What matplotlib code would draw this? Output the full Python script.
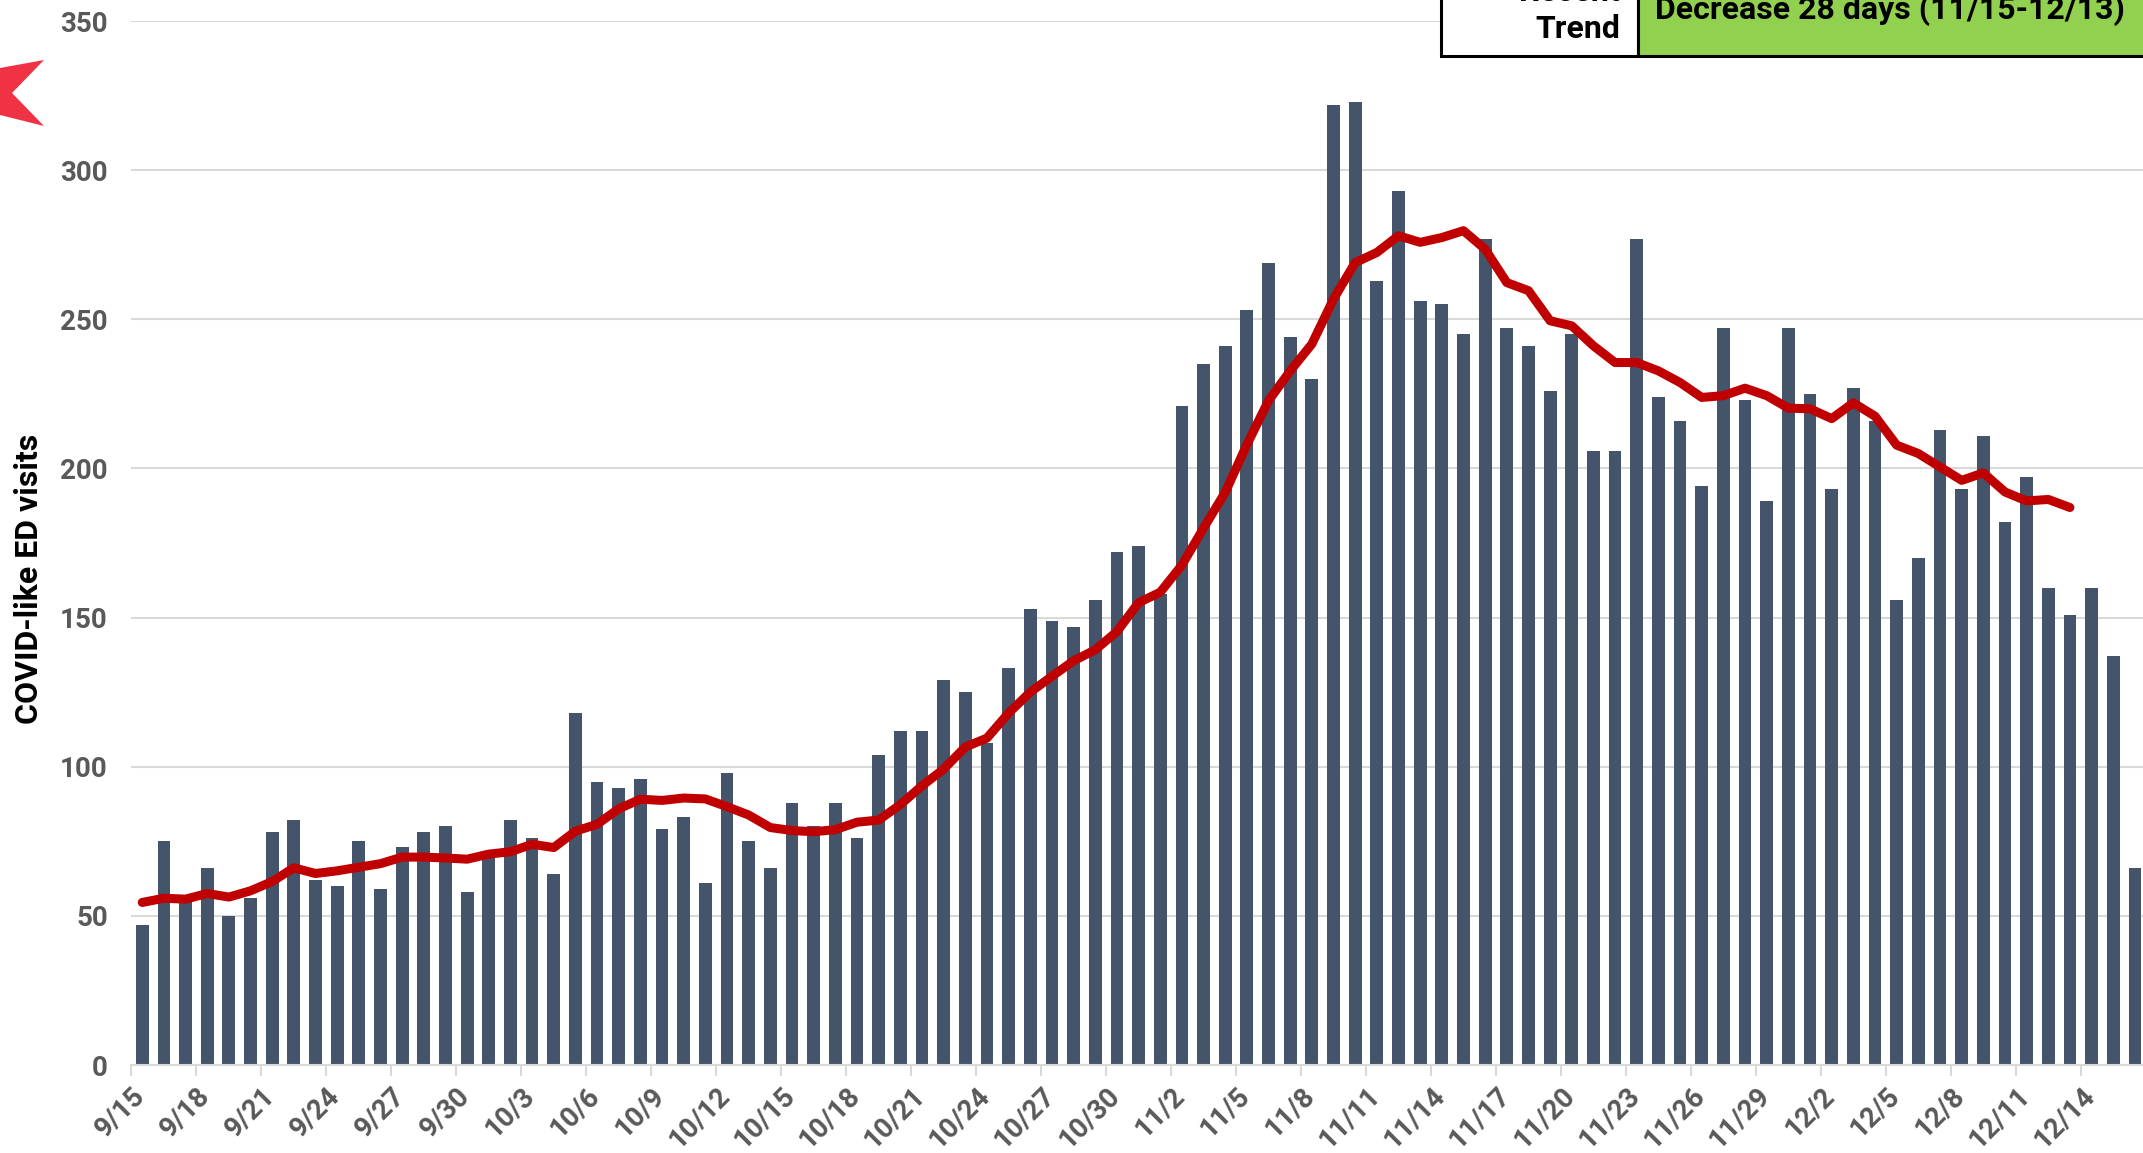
import numpy as np
import pandas as pd
import matplotlib
matplotlib.use("Agg")
import matplotlib.pyplot as plt
from matplotlib.patches import Polygon, Rectangle

plt.rcParams['font.family'] = ['Roboto', 'DejaVu Sans']

## daily COVID-like ED visits, 9/15 - 12/16
visits = [47, 75, 56, 66, 50, 56, 78, 82, 62, 60, 75, 59, 73, 78, 80, 58,
          70, 82, 76, 64, 118, 95, 93, 96, 79, 83, 61, 98, 75, 66, 88, 80,
          88, 76, 104, 112, 112, 129, 125, 108, 133, 153, 149, 147, 156, 172, 174,
          158, 221, 235, 241, 253, 269, 244, 230, 322, 323, 263, 293, 256, 255,
          245, 277, 247, 241, 226, 245, 206, 206, 277, 224, 216, 194, 247, 223, 189, 247,
          225, 193, 227, 216, 156, 170, 213, 193, 211, 182, 197, 160, 151, 160, 137, 66]

## moving average, 9/15 - 12/13
avg = [54.5, 55.9, 55.6, 57.5, 56.3, 58.4, 61.5, 66.1, 64.2, 65.1, 66.3, 67.5, 69.7, 69.7, 69.4, 69.0,
       70.7, 71.5, 74.0, 72.9, 78.4, 80.7, 85.9, 89.1, 88.7, 89.5, 89.2, 86.6, 83.8, 79.6, 78.6, 78.2,
       78.9, 81.4, 82.1, 87.3, 93.6, 99.2, 106.6, 109.6, 118, 125, 130.3, 135.5, 139.2, 145.3, 155,
       158.5, 167.6, 180, 192, 208, 222.7, 232.7, 241.7, 256.8, 269, 272.4, 278, 275.8, 277.4,
       279.7, 273.5, 262.3, 259.6, 249.5, 247.8, 241.1, 235.5, 235.5, 232.7, 228.8, 223.8, 224.4, 226.9, 224.4, 220.2,
       220, 216.7, 222, 217.5, 207.8, 205, 200.5, 196, 198.5, 192.1, 189.1, 189.6, 186.9]

dates = pd.date_range('2020-09-15', periods=len(visits), freq='D')
labels = [f"{d.month}/{d.day}" for d in dates]

W, H = 2143, 1153
fig = plt.figure(figsize=(W / 100, H / 100), dpi=100)

def fx(px):
    return px / W

def fy(py):
    return 1 - py / H

# recent trend table (behind the chart)
fig.patches.append(Rectangle((fx(1441), fy(56)), fx(1638) - fx(1441), 0.2, transform=fig.transFigure,
                             facecolor='white', edgecolor='black', linewidth=2.2, zorder=0))
fig.patches.append(Rectangle((fx(1638), fy(56)), 0.3, 0.2, transform=fig.transFigure,
                             facecolor='#92D050', edgecolor='black', linewidth=2.2, zorder=0))
fig.text(fx(1620), fy(-8), 'Recent', ha='right', va='center', fontsize=23, fontweight='bold', color='black')
fig.text(fx(1620), fy(29), 'Trend', ha='right', va='center', fontsize=23, fontweight='bold', color='black')
fig.text(fx(1890), fy(10), 'Decrease 28 days (11/15-12/13)', ha='center', va='center',
         fontsize=23, fontweight='bold', color='black')

# red marker at left edge
arrow = [(0, 68), (44, 60), (12, 93), (44, 126), (0, 115)]
fig.patches.append(Polygon([(fx(x), fy(y)) for x, y in arrow], closed=True, transform=fig.transFigure,
                           facecolor='#EF3344', edgecolor='none'))

ax = fig.add_axes([fx(131.4), fy(1065), fx(2156.6) - fx(131.4), fy(21) - fy(1065)])
ax.set_facecolor('none')

x = np.arange(len(visits))
ax.bar(x, visits, width=0.59, color='#44546A', zorder=2)
ax.plot(np.arange(len(avg)), avg, color='#C00000', linewidth=6.5, solid_capstyle='round',
        solid_joinstyle='round', zorder=3)

ax.set_xlim(-0.5, 93)
ax.set_ylim(0, 350)
ax.set_yticks(range(0, 351, 50))
ax.yaxis.grid(True, color='#D9D9D9', linewidth=1.5, zorder=0)
ax.set_axisbelow(True)

ax.set_xticks(x[::3] - 0.5)
ax.set_xticklabels(labels[::3], rotation=45, ha='right', rotation_mode='anchor')

for s in ['top', 'right', 'left']:
    ax.spines[s].set_visible(False)
ax.spines['bottom'].set_color('#D9D9D9')
ax.spines['bottom'].set_linewidth(1.5)

ax.tick_params(axis='x', colors='#595959', length=8, width=1.5, color='#D9D9D9', labelsize=20, pad=4)
ax.tick_params(axis='y', colors='#595959', length=0, labelsize=20, pad=17)
for t in ax.get_xticklabels() + ax.get_yticklabels():
    t.set_fontweight('bold')

ax.set_ylabel('COVID-like ED visits', fontsize=23, fontweight='bold', color='black')
ax.yaxis.set_label_coords(-0.0432, 0.466)

fig.savefig('out.png', dpi=100)
